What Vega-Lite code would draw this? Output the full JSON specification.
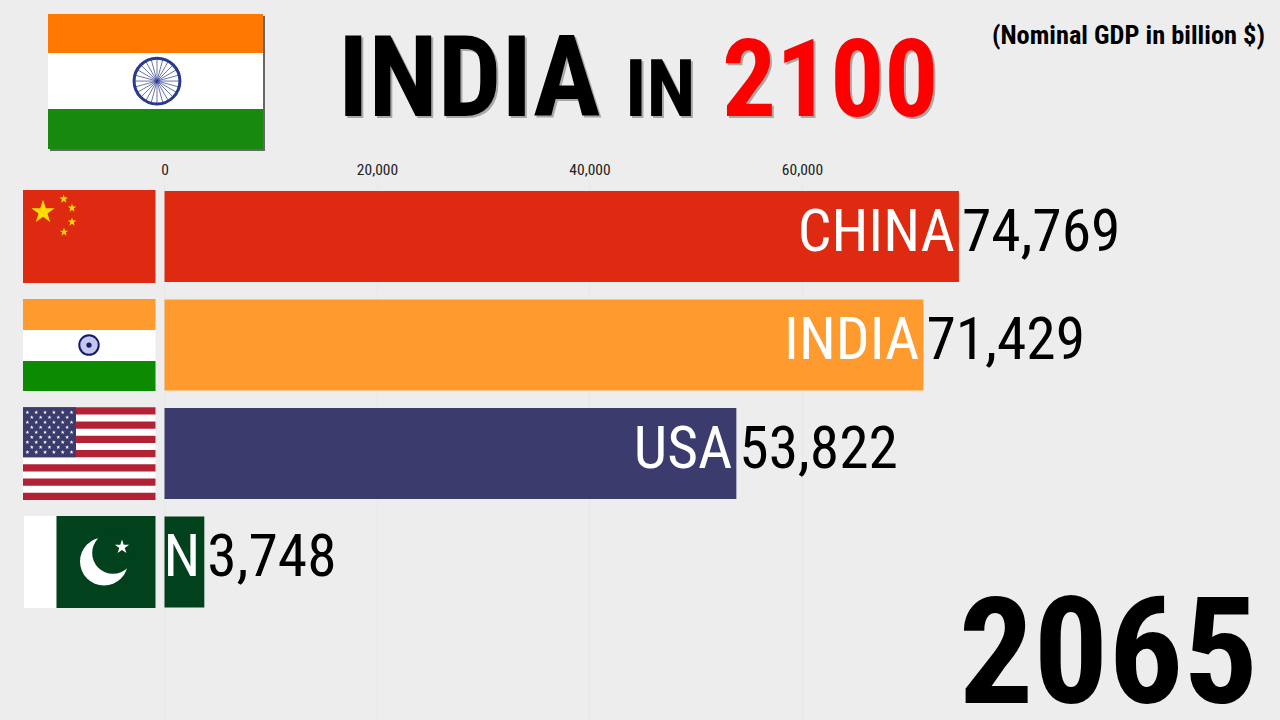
{
"$schema":"https://vega.github.io/schema/vega-lite/v6.json",
"width":1280,"height":540,
"autosize":{"type":"none"},
"padding":{"left":0,"top":180,"right":0,"bottom":0},
"background":"#ededed",
"config":{"view":{"stroke":null},"font":"Roboto Condensed"},
"datasets":{
"gdp":[
{"country":"CHINA","part":"CHINA","label":"CHINA","rank":1,"gdp":74769},
{"country":"INDIA","part":"INDIA","label":"INDIA","rank":2,"gdp":71429},
{"country":"USA","part":"USA","label":"USA","rank":3,"gdp":53822},
{"country":"PAKISTAN","part":"PAKISTAN","label":"N","rank":4,"gdp":3748}
]},
"layer":[
{"data":{"name":"gdp"},"mark":{"type":"bar","orient":"horizontal","size":91},
"encoding":{
"x":{"field":"gdp","type":"quantitative","stack":null,"scale":{"domain":[-15482,104988],"nice":false,"zero":false,"padding":0},
"axis":{"orient":"top","title":null,"values":[0,20000,40000,60000],"format":",.0f","formatType":"number","domain":false,"ticks":false,"labelPadding":3,"labelFontSize":15.5,"labelColor":"#222222","labelFont":"Roboto Condensed","grid":true,"gridColor":"#e7e7e7","gridWidth":1}},
"y":{"field":"rank","type":"quantitative","axis":null,"scale":{"domain":[0.479,5.456],"reverse":true,"nice":false,"zero":false,"padding":0}},
"color":{"field":"part","type":"nominal","legend":null,"scale":{
"domain":["CHINA","INDIA","USA","PAKISTAN","saffron","white","green","headerSaffron","headerGreen","shadow","usRed"],
"range":["#dd2a10","#ff9a2e","#3c3b6e","#01411c","#ff9a2e","#ffffff","#0c8a00","#ff7900","#168a0c","#666666","#b22234"]}}
}},
{"data":{"values":[
{"part":"shadow","x0":-10776,"x1":9459,"y0":-1.032,"y1":0.212},
{"part":"headerSaffron","x0":-10965,"x1":9271,"y0":-1.0507,"y1":-0.691},
{"part":"white","x0":-10965,"x1":9271,"y0":-0.691,"y1":-0.175},
{"part":"headerGreen","x0":-10965,"x1":9271,"y0":-0.175,"y1":0.194},
{"part":"CHINA","x0":-13318,"x1":-847,"y0":0.571,"y1":1.4286},
{"part":"saffron","x0":-13318,"x1":-847,"y0":1.576,"y1":1.862},
{"part":"white","x0":-13318,"x1":-847,"y0":1.862,"y1":2.147},
{"part":"green","x0":-13318,"x1":-847,"y0":2.147,"y1":2.424},
{"part":"white","x0":-13318,"x1":-847,"y0":2.5742,"y1":3.4283},
{"part":"usRed","x0":-13318,"x1":-847,"y0":2.5742,"y1":2.6399},
{"part":"usRed","x0":-13318,"x1":-847,"y0":2.7056,"y1":2.7713},
{"part":"usRed","x0":-13318,"x1":-847,"y0":2.837,"y1":2.9027},
{"part":"usRed","x0":-13318,"x1":-847,"y0":2.9684,"y1":3.0341},
{"part":"usRed","x0":-13318,"x1":-847,"y0":3.0998,"y1":3.1655},
{"part":"usRed","x0":-13318,"x1":-847,"y0":3.2312,"y1":3.2969},
{"part":"usRed","x0":-13318,"x1":-847,"y0":3.3626,"y1":3.4283},
{"part":"USA","x0":-13318,"x1":-8329,"y0":2.5742,"y1":3.0341},
{"part":"white","x0":-13224,"x1":-10165,"y0":3.576,"y1":4.424},
{"part":"PAKISTAN","x0":-10165,"x1":-847,"y0":3.576,"y1":4.424}
]},"mark":{"type":"rect"},
"encoding":{
"x":{"field":"x0","type":"quantitative"},"x2":{"field":"x1"},
"y":{"field":"y0","type":"quantitative"},"y2":{"field":"y1"},
"color":{"field":"part","type":"nominal","legend":null}}},
{"data":{"values":[{"x":-706,"y":-0.433}]},"mark":{"type":"point","shape":"circle","filled":true,"size":2100,"fill":"#ffffff","stroke":"#2a3a8c","strokeWidth":3,"opacity":1},
"encoding":{"x":{"field":"x","type":"quantitative"},"y":{"field":"y","type":"quantitative"}}},
{"data":{"values":[
{"x0":-2871,"x1":1459,"y0":-0.433,"y1":-0.433},
{"x0":-2797,"x1":1385,"y0":-0.488,"y1":-0.378},
{"x0":-2581,"x1":1169,"y0":-0.539,"y1":-0.327},
{"x0":-2237,"x1":825,"y0":-0.583,"y1":-0.283},
{"x0":-1788,"x1":376,"y0":-0.617,"y1":-0.249},
{"x0":-1267,"x1":-145,"y0":-0.638,"y1":-0.228},
{"x0":-706,"x1":-706,"y0":-0.645,"y1":-0.221},
{"x0":-1267,"x1":-145,"y0":-0.228,"y1":-0.638},
{"x0":-1788,"x1":376,"y0":-0.249,"y1":-0.617},
{"x0":-2237,"x1":825,"y0":-0.283,"y1":-0.583},
{"x0":-2581,"x1":1169,"y0":-0.327,"y1":-0.539},
{"x0":-2797,"x1":1385,"y0":-0.378,"y1":-0.488}
]},"mark":{"type":"rule","color":"#2a3a8c","strokeWidth":0.7},
"encoding":{"x":{"field":"x0","type":"quantitative"},"x2":{"field":"x1"},"y":{"field":"y0","type":"quantitative"},"y2":{"field":"y1"}}},
{"data":{"values":[{"x":-7106,"y":2}]},"mark":{"type":"point","shape":"circle","filled":true,"size":380,"fill":"#c4c6ec","stroke":"#16186e","strokeWidth":2,"opacity":1},
"encoding":{"x":{"field":"x","type":"quantitative"},"y":{"field":"y","type":"quantitative"}}},
{"data":{"values":[{"x":-7106,"y":2}]},"mark":{"type":"point","shape":"circle","filled":true,"size":28,"fill":"#16186e","opacity":1},
"encoding":{"x":{"field":"x","type":"quantitative"},"y":{"field":"y","type":"quantitative"}}},
{"data":{"values":[{"x":-11435,"y":0.774}]},"mark":{"type":"point","shape":"M0,-1L0.225,-0.309L0.951,-0.309L0.363,0.118L0.588,0.809L0,0.382L-0.588,0.809L-0.363,0.118L-0.951,-0.309L-0.225,-0.309Z","filled":true,"size":600,"fill":"#ffde00","opacity":1},
"encoding":{"x":{"field":"x","type":"quantitative"},"y":{"field":"y","type":"quantitative"}}},
{"data":{"values":[{"x":-9487,"y":0.654},{"x":-8706,"y":0.737},{"x":-8706,"y":0.866},{"x":-9459,"y":0.9585}]},"mark":{"type":"point","shape":"M0,-1L0.225,-0.309L0.951,-0.309L0.363,0.118L0.588,0.809L0,0.382L-0.588,0.809L-0.363,0.118L-0.951,-0.309L-0.225,-0.309Z","filled":true,"size":81,"fill":"#ffde00","opacity":1},
"encoding":{"x":{"field":"x","type":"quantitative"},"y":{"field":"y","type":"quantitative"}}},
{"data":{"values":[
{"x":-12904,"y":2.6202},{"x":-12073,"y":2.6202},{"x":-11242,"y":2.6202},{"x":-10411,"y":2.6202},{"x":-9580,"y":2.6202},{"x":-8749,"y":2.6202},
{"x":-12488,"y":2.6662},{"x":-11657,"y":2.6662},{"x":-10826,"y":2.6662},{"x":-9995,"y":2.6662},{"x":-9164,"y":2.6662},
{"x":-12904,"y":2.7122},{"x":-12073,"y":2.7122},{"x":-11242,"y":2.7122},{"x":-10411,"y":2.7122},{"x":-9580,"y":2.7122},{"x":-8749,"y":2.7122},
{"x":-12488,"y":2.7582},{"x":-11657,"y":2.7582},{"x":-10826,"y":2.7582},{"x":-9995,"y":2.7582},{"x":-9164,"y":2.7582},
{"x":-12904,"y":2.8042},{"x":-12073,"y":2.8042},{"x":-11242,"y":2.8042},{"x":-10411,"y":2.8042},{"x":-9580,"y":2.8042},{"x":-8749,"y":2.8042},
{"x":-12488,"y":2.8502},{"x":-11657,"y":2.8502},{"x":-10826,"y":2.8502},{"x":-9995,"y":2.8502},{"x":-9164,"y":2.8502},
{"x":-12904,"y":2.8962},{"x":-12073,"y":2.8962},{"x":-11242,"y":2.8962},{"x":-10411,"y":2.8962},{"x":-9580,"y":2.8962},{"x":-8749,"y":2.8962},
{"x":-12488,"y":2.9422},{"x":-11657,"y":2.9422},{"x":-10826,"y":2.9422},{"x":-9995,"y":2.9422},{"x":-9164,"y":2.9422},
{"x":-12904,"y":2.9882},{"x":-12073,"y":2.9882},{"x":-11242,"y":2.9882},{"x":-10411,"y":2.9882},{"x":-9580,"y":2.9882},{"x":-8749,"y":2.9882}
]},"mark":{"type":"point","shape":"M0,-1L0.225,-0.309L0.951,-0.309L0.363,0.118L0.588,0.809L0,0.382L-0.588,0.809L-0.363,0.118L-0.951,-0.309L-0.225,-0.309Z","filled":true,"size":18,"fill":"#ffffff","opacity":1},
"encoding":{"x":{"field":"x","type":"quantitative"},"y":{"field":"y","type":"quantitative"}}},
{"data":{"values":[{"x":-5694,"y":3.995}]},"mark":{"type":"point","shape":"circle","filled":true,"size":2300,"fill":"#ffffff","opacity":1},
"encoding":{"x":{"field":"x","type":"quantitative"},"y":{"field":"y","type":"quantitative"}}},
{"data":{"values":[{"x":-4847,"y":3.917}]},"mark":{"type":"point","shape":"circle","filled":true,"size":1735,"fill":"#01411c","opacity":1},
"encoding":{"x":{"field":"x","type":"quantitative"},"y":{"field":"y","type":"quantitative"}}},
{"data":{"values":[{"x":-4000,"y":3.862}]},"mark":{"type":"point","shape":"M0,-1L0.225,-0.309L0.951,-0.309L0.363,0.118L0.588,0.809L0,0.382L-0.588,0.809L-0.363,0.118L-0.951,-0.309L-0.225,-0.309Z","filled":true,"size":225,"fill":"#ffffff","opacity":1},
"encoding":{"x":{"field":"x","type":"quantitative"},"y":{"field":"y","type":"quantitative"}}},
{"data":{"name":"gdp"},"mark":{"type":"text","align":"right","baseline":"middle","dx":-4,"dy":-4,"fontSize":59.5,"fill":"#ffffff","font":"Roboto Condensed"},
"encoding":{"x":{"field":"gdp","type":"quantitative"},"y":{"field":"rank","type":"quantitative"},"text":{"field":"label","type":"nominal"}}},
{"data":{"name":"gdp"},"mark":{"type":"text","align":"left","baseline":"middle","dx":3,"dy":-4,"fontSize":59.5,"fill":"#000000","font":"Roboto Condensed"},
"encoding":{"x":{"field":"gdp","type":"quantitative"},"y":{"field":"rank","type":"quantitative"},"text":{"field":"gdp","type":"quantitative","format":","}}},
{"data":{"values":[{"t":"INDIA"}]},"mark":{"type":"text","align":"left","baseline":"alphabetic","dx":2,"dy":2,"fontSize":113,"fontWeight":"bold","fill":"#555555","opacity":0.45,"font":"Roboto Condensed"},
"encoding":{"x":{"datum":16330},"y":{"datum":-0.1106},"text":{"field":"t"}}},
{"data":{"values":[{"t":"INDIA"}]},"mark":{"type":"text","align":"left","baseline":"alphabetic","fontSize":113,"fontWeight":"bold","fill":"#000000","font":"Roboto Condensed"},
"encoding":{"x":{"datum":16330},"y":{"datum":-0.1106},"text":{"field":"t"}}},
{"data":{"values":[{"t":"IN"}]},"mark":{"type":"text","align":"left","baseline":"alphabetic","dx":2,"dy":2,"fontSize":80,"fontWeight":"bold","fill":"#555555","opacity":0.45,"font":"Roboto Condensed"},
"encoding":{"x":{"datum":43341},"y":{"datum":-0.1106},"text":{"field":"t"}}},
{"data":{"values":[{"t":"IN"}]},"mark":{"type":"text","align":"left","baseline":"alphabetic","fontSize":80,"fontWeight":"bold","fill":"#000000","font":"Roboto Condensed"},
"encoding":{"x":{"datum":43341},"y":{"datum":-0.1106},"text":{"field":"t"}}},
{"data":{"values":[{"t":"2100"}]},"mark":{"type":"text","align":"left","baseline":"alphabetic","dx":2,"dy":2,"fontSize":107,"fontWeight":"bold","fill":"#555555","opacity":0.45,"font":"Roboto Condensed"},
"encoding":{"x":{"datum":52471},"y":{"datum":-0.1106},"text":{"field":"t"}}},
{"data":{"values":[{"t":"2100"}]},"mark":{"type":"text","align":"left","baseline":"alphabetic","fontSize":107,"fontWeight":"bold","fill":"#ff0000","font":"Roboto Condensed"},
"encoding":{"x":{"datum":52471},"y":{"datum":-0.1106},"text":{"field":"t"}}},
{"data":{"values":[{"t":"(Nominal GDP in billion $)"}]},"mark":{"type":"text","align":"right","baseline":"alphabetic","fontSize":26.4,"fontWeight":"bold","fill":"#000000","font":"Roboto Condensed"},
"encoding":{"x":{"datum":103576},"y":{"datum":-0.774},"text":{"field":"t"}}},
{"data":{"values":[{"t":"2065"}]},"mark":{"type":"text","align":"right","baseline":"alphabetic","fontSize":148,"fontWeight":"bold","fill":"#000000","font":"Roboto Condensed"},
"encoding":{"x":{"datum":102918},"y":{"datum":5.2995},"text":{"field":"t"}}}
]
}
